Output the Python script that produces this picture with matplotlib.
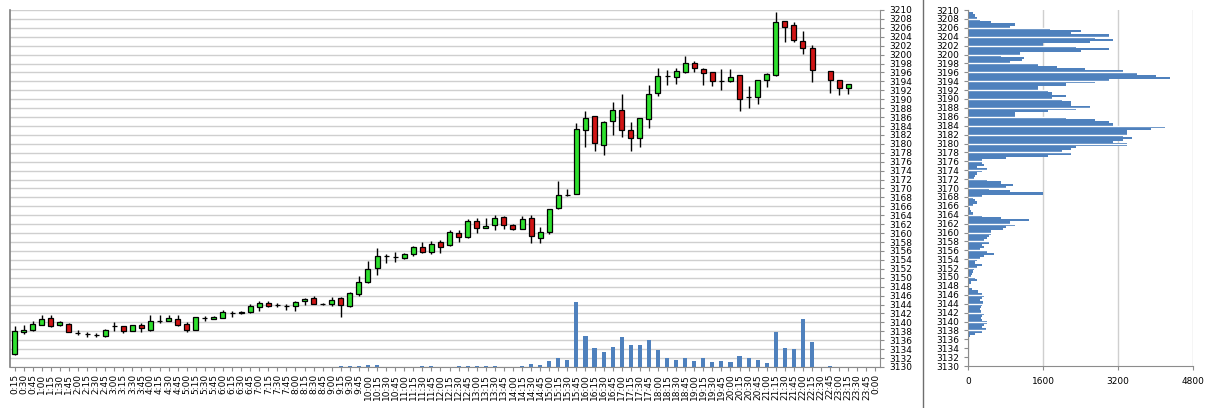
import numpy as np
import matplotlib
matplotlib.use("Agg")
import matplotlib.pyplot as plt
from matplotlib.lines import Line2D

nan = np.nan

# ---- categories (15-minute bars) ----
times = [f"{(m // 60) % 24}:{m % 60:02d}" for m in range(15, 24 * 60 + 15, 15)]

# ---- OHLC ----
opens = [3133.0, 3137.9, 3138.2, 3139.5, 3141.0, 3139.3, 3139.7, 3137.7, 3137.3, 3137.2,
         3137.0, 3139.1, 3139.1, 3138.1, 3139.5, 3138.2, 3140.4, 3140.4, 3140.8, 3139.7,
         3138.4, 3141.0, 3140.8, 3141.0, 3142.1, 3142.0, 3142.3, 3143.4, 3144.4, 3143.8,
         3143.6, 3143.6, 3144.9, 3145.5, 3144.2, 3144.1, 3145.4, 3143.7, 3146.4, 3149.0,
         3152.2, 3154.8, 3154.7, 3154.5, 3155.3, 3156.8, 3155.7, 3157.9, 3157.3, 3160.1,
         3159.1, 3162.7, 3161.2, 3161.8, 3163.6, 3161.8, 3160.9, 3163.4, 3158.9, 3160.2,
         3165.6, 3168.5, 3168.8, 3183.0, 3186.2, 3179.7, 3185.1, 3187.6, 3183.1, 3181.3,
         3185.5, 3191.4, 3195.1, 3194.9, 3196.2, 3198.2, 3196.8, 3196.1, 3194.2, 3194.2,
         3195.5, 3190.5, 3190.5, 3194.3, 3195.5, 3207.5, 3206.7, 3203.1, 3201.5, nan,
         3196.4, 3194.3, 3192.5, nan, nan, nan]
highs = [3139.2, 3139.5, 3140.4, 3141.6, 3141.7, 3140.4, 3139.9, 3138.2, 3137.85, 3137.6,
         3138.5, 3140.1, 3139.2, 3139.3, 3139.9, 3141.7, 3141.7, 3141.6, 3141.6, 3140.1,
         3141.3, 3141.4, 3141.5, 3142.7, 3142.5, 3142.5, 3144.1, 3144.7, 3144.9, 3144.3,
         3144.1, 3144.7, 3145.4, 3145.8, 3144.4, 3145.7, 3145.7, 3146.8, 3150.3, 3153.7,
         3156.6, 3155.4, 3155.7, 3155.6, 3157.1, 3158.0, 3158.3, 3158.5, 3160.7, 3160.8,
         3163.1, 3163.4, 3163.4, 3164.0, 3163.9, 3162.0, 3163.8, 3164.1, 3161.3, 3165.5,
         3171.7, 3169.9, 3184.6, 3187.4, 3186.3, 3185.1, 3189.4, 3191.2, 3185.0, 3185.8,
         3193.2, 3196.9, 3196.6, 3197.0, 3199.7, 3198.6, 3196.9, 3196.1, 3196.8, 3196.8,
         3195.5, 3192.9, 3194.4, 3195.8, 3209.6, 3207.6, 3207.2, 3205.2, 3202.2, nan,
         3196.4, 3194.3, 3193.5, nan, nan, nan]
lows = [3132.8, 3137.5, 3138.0, 3139.4, 3139.0, 3139.2, 3137.8, 3137.1, 3136.7, 3136.7,
        3136.8, 3138.1, 3137.6, 3138.1, 3137.9, 3138.1, 3139.9, 3140.3, 3139.2, 3137.9,
        3138.3, 3140.3, 3140.7, 3140.9, 3141.3, 3141.9, 3142.1, 3142.5, 3143.5, 3143.4,
        3142.7, 3142.5, 3143.9, 3144.1, 3144.0, 3143.7, 3141.2, 3143.5, 3145.8, 3148.9,
        3150.7, 3153.3, 3153.5, 3154.1, 3154.9, 3155.5, 3155.3, 3155.5, 3157.2, 3158.0,
        3158.8, 3160.1, 3161.2, 3160.6, 3160.9, 3160.8, 3160.9, 3157.8, 3157.7, 3159.7,
        3165.5, 3168.3, 3168.7, 3179.3, 3178.3, 3177.4, 3182.0, 3181.6, 3178.3, 3179.3,
        3183.5, 3190.8, 3193.3, 3193.5, 3195.9, 3196.0, 3193.1, 3193.0, 3192.1, 3193.8,
        3187.3, 3188.1, 3188.9, 3192.7, 3195.2, 3202.9, 3202.8, 3200.1, 3193.8, nan,
        3191.4, 3190.9, 3191.2, nan, nan, nan]
closes = [3138.0, 3138.4, 3139.6, 3140.8, 3139.2, 3140.0, 3137.85, 3137.7, 3137.3, 3137.2,
          3138.4, 3139.1, 3138.1, 3139.3, 3138.8, 3140.4, 3140.4, 3141.0, 3139.5, 3138.4,
          3141.2, 3141.0, 3141.3, 3142.3, 3142.1, 3142.4, 3143.6, 3144.4, 3143.6, 3143.8,
          3143.6, 3144.5, 3145.3, 3144.2, 3144.2, 3145.0, 3144.0, 3146.6, 3149.0, 3151.9,
          3154.9, 3154.8, 3154.7, 3155.4, 3156.8, 3155.7, 3157.6, 3157.0, 3160.3, 3159.1,
          3162.7, 3161.2, 3161.7, 3163.4, 3161.9, 3160.9, 3163.2, 3159.3, 3160.3, 3165.3,
          3168.6, 3168.5, 3183.3, 3185.9, 3180.1, 3185.0, 3187.6, 3183.0, 3181.4, 3185.7,
          3191.2, 3195.1, 3195.1, 3196.4, 3198.1, 3197.0, 3195.8, 3194.0, 3194.2, 3195.0,
          3190.1, 3190.5, 3194.4, 3195.7, 3207.4, 3206.3, 3203.2, 3201.4, 3196.5, nan,
          3194.3, 3192.5, 3193.5, nan, nan, nan]

# ---- volume per bar ----
volumes = [0] * 36 + [70, 70, 100, 200, 200, 0, 0, 0, 0, 70,
                      70, 0, 0, 70, 70, 70, 70, 70, 30, 0,
                      70, 300, 200, 600, 900, 700, 6500, 3100, 1870, 1500,
                      2000, 3000, 2200, 2200, 2700, 1670, 870, 700, 870, 600,
                      870, 500, 600, 500, 1100, 870, 700, 400, 3500, 1900,
                      1800, 4800, 2530, 0, 70, 0, 0, 0, 0, 0]

# ---- volume profile (price levels from 3136.25 up, step 0.5) ----
profile_levels = np.arange(3136.25, 3210.0, 0.5)
profile_volume = [0, 50, 150, 300,   380, 300, 350, 400,   300, 280, 300, 350,
                  280, 250, 280, 300,   320, 250, 300, 350,   300, 220, 80, 0,
                  0, 60, 200, 150,   60, 80, 100, 120,   200, 300, 150, 200,
                  250, 350, 550, 400,   250, 350, 300, 450,   350, 400, 450, 500,
                  500, 750, 800, 1000,   900, 1300, 700, 300,   100, 60, 40, 50,
                  100, 200, 150, 100,   300, 1600, 900, 450,   800, 950, 700, 400,
                  120, 150, 200, 300,   400, 200, 350, 300,   300, 800, 1700, 2200,
                  2000, 2200, 2300, 3400,   3100, 3300, 3500, 3300,   3400, 3400, 3900, 4200,
                  3100, 3000, 2700, 2100,   1000, 1000, 1700, 2300,   2600, 2200, 2200, 2000,
                  1800, 2100, 1800, 1700,   1500, 1500, 2100, 2700,   3000, 4300, 4000, 3600,
                  3300, 2500, 1900, 1500,   900, 1150, 1200, 700,   1100, 2400, 3000, 2300,
                  1600, 2600, 3100, 2700,   3000, 2200, 2400, 1750,   900, 1000, 500, 250,
                  200, 150, 100, 0]

price_ticks = list(range(3130, 3211, 2))
profile_xticks = [0, 1600, 3200, 4800]

GREEN = "#2EE02E"
RED = "#D01515"
BLUE = "#4F81BD"
GRID = "#CFCFCF"
AXC = "#8C8C8C"
FS = 6.5

fig = plt.figure(figsize=(12.11, 4.08), dpi=100)
W, H = 1211, 408

# ---- main candlestick axes ----
ax = fig.add_axes([10 / W, (H - 367) / H, 870 / W, 357 / H])
x = np.arange(len(times))

# volume on hidden secondary axis (created first, ticks fixed afterwards)
axv = ax.twinx()

o = np.array(opens); c = np.array(closes); hi = np.array(highs); lo = np.array(lows)
valid = ~np.isnan(o)
ax.vlines(x[valid], lo[valid], hi[valid], color="black", lw=1.0, zorder=2)
up = valid & (c >= o)
dn = valid & (c < o)
ax.bar(x[up], (c - o)[up], bottom=o[up], width=0.55, color=GREEN,
       edgecolor="black", linewidth=0.9, zorder=3)
ax.bar(x[dn], (o - c)[dn], bottom=c[dn], width=0.55, color=RED,
       edgecolor="black", linewidth=0.9, zorder=3)

ax.set_xlim(-0.5, len(times) - 0.5)
ax.set_ylim(3130, 3210)
ax.set_yticks(price_ticks)
ax.set_yticklabels([str(t) for t in price_ticks], fontsize=FS)
ax.set_xticks(x)
ax.set_xticklabels(times, rotation=90, fontsize=FS)
ax.grid(axis="y", color=GRID, lw=1.0)
ax.set_axisbelow(True)
ax.spines["top"].set_visible(False)
ax.spines["left"].set_color("#7F7F7F")
ax.spines["left"].set_linewidth(1.2)
ax.spines["right"].set_color(AXC)
ax.spines["right"].set_linewidth(0.8)
ax.spines["bottom"].set_color(AXC)

axv.bar(x, volumes, width=0.45, color=BLUE, zorder=1)
axv.set_ylim(0, 35700)
axv.set_yticks([])
axv.tick_params(axis="y", which="both", left=False, right=False,
                labelleft=False, labelright=False)
for s in axv.spines.values():
    s.set_visible(False)

# price labels on the right side of the candle panel
ax.tick_params(axis="y", left=False, labelleft=False, right=True, labelright=True,
               length=3, pad=4, color=AXC)
ax.tick_params(axis="x", length=3, pad=2, color=AXC)

# ---- volume profile ----
ax2 = fig.add_axes([968 / W, (H - 366) / H, 225 / W, 356 / H])
ax2.barh(profile_levels, profile_volume, height=0.5, color=BLUE, zorder=2)
lv = np.array(profile_levels); pv = np.array(profile_volume)
sep_len = [pv[np.abs(lv - t) < 0.5].max() if np.any(np.abs(lv - t) < 0.5) else 0
           for t in price_ticks]
ax2.hlines(price_ticks, 0, sep_len, color="white", lw=1.0, zorder=3)
ax2.set_xlim(0, 4800)
ax2.set_ylim(3130, 3210)
ax2.set_yticks(price_ticks)
ax2.set_yticklabels([str(t) for t in price_ticks], fontsize=FS)
ax2.set_xticks(profile_xticks)
ax2.set_xticklabels([str(t) for t in profile_xticks], fontsize=FS)
ax2.tick_params(axis="both", length=3, color=AXC)
ax2.tick_params(axis="x", pad=5)
ax2.grid(axis="x", color=GRID, lw=1.0)
ax2.set_axisbelow(True)
ax2.spines["top"].set_visible(False)
ax2.spines["right"].set_visible(False)
ax2.spines["left"].set_color(AXC)
ax2.spines["bottom"].set_color(AXC)

# divider line between panels
fig.add_artist(Line2D([923 / W, 923 / W], [0, 1], transform=fig.transFigure,
                      color="#6E6E6E", lw=1.0))

fig.savefig("out.png", dpi=100)
